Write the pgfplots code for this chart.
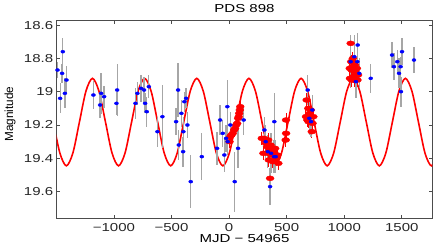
\documentclass[border=0pt]{standalone}
\usepackage{fontspec}
\setmainfont{Liberation Sans}[FakeStretch=1.3]
\newfontfamily\ylabfont{Liberation Sans}
\usepackage{pgfplots}
\usepackage{pgfplotstable}
\pgfplotsset{compat=1.18}

\pgfplotstableread{
t m e
-1490 18.87 0.05
-1467 19.04 0.09
-1444 18.76 0.08
-1450 18.89 0.055
-1412 18.93 0.085
-1426 19.01 0.09
-1178 19.02 0.085
-1111 19.01 0.125
-1120 19.08 0.08
-1085 19.03 0.065
-972 18.99 0.155
-978 19.07 0.07
-813 19.07 0.095
-796 19.01 0.07
-764 18.98 0.08
-738 18.99 0.08
-697 18.97 0.07
-729 19.07 0.06
-715 19.12 0.09
-622 19.24 0.09
-579 19.15 0.19
-443 18.99 0.16
-460 19.18 0.08
-414 19.13 0.08
-388 19.06 0.06
-373 19.04 0.06
-397 19.24 0.09
-437 19.32 0.09
-399 19.36 0.09
-362 19.20 0.08
-333 19.54 0.16
-237 19.39 0.14
-104 19.34 0.10
-78 19.17 0.09
-55 19.25 0.08
-41 19.38 0.10
-26 19.28 0.08
-15 19.09 0.16
11 19.20 0.08
-12 19.30 0.08
49 19.54 0.18
78 19.34 0.12
127 19.17 0.09
307 19.23 0.08
393 19.18 0.17
318 19.30 0.10
336 19.36 0.10
365 19.37 0.12
391 19.39 0.10
405 19.39 0.10
356 19.57 0.11
683 18.99 0.09
723 19.11 0.09
697 19.16 0.10
712 19.18 0.09
1056 18.82 0.16
1088 18.79 0.13
1114 18.82 0.13
1131 18.89 0.09
1102 18.94 0.10
1117 18.72 0.07
1230 18.92 0.085
1415 18.78 0.08
1432 18.85 0.08
1461 18.82 0.07
1476 18.89 0.09
1490 18.85 0.06
1502 18.76 0.08
1493 19.00 0.09
1606 18.81 0.08
}\bluedata

\pgfplotstableread{
t m e
97 19.09 0.04
93 19.11 0.04
88 19.13 0.04
84 19.15 0.04
79 19.16 0.04
70 19.19 0.04
62 19.20 0.04
52 19.22 0.04
44 19.23 0.04
32 19.25 0.04
20 19.26 0.04
10 19.27 0.04
4 19.30 0.04
284 19.28 0.04
298 19.37 0.04
304 19.28 0.04
312 19.29 0.04
320 19.31 0.04
330 19.33 0.04
340 19.29 0.04
350 19.35 0.04
360 19.32 0.04
368 19.38 0.04
375 19.35 0.04
390 19.36 0.04
400 19.34 0.04
410 19.40 0.04
428 19.43 0.04
356 19.52 0.04
345 19.41 0.04
335 19.37 0.04
380 19.42 0.04
420 19.38 0.04
495 19.17 0.04
495 19.25 0.04
492 19.29 0.04
674 19.05 0.04
688 19.10 0.04
668 19.15 0.04
680 19.17 0.04
700 19.13 0.04
732 19.15 0.04
718 19.24 0.04
710 19.11 0.04
690 19.18 0.04
725 19.19 0.04
1056 18.71 0.04
1060 18.82 0.04
1064 18.87 0.04
1079 18.91 0.04
1050 18.92 0.04
1070 18.85 0.04
1090 18.88 0.04
1100 18.90 0.04
1110 18.86 0.04
1120 18.90 0.04
1085 18.93 0.04
1048 18.86 0.04
1115 18.93 0.04
1095 18.84 0.04
1075 18.80 0.04
1065 18.93 0.04
}\reddata

\pgfplotstableread{
t m
-1526.25 19.1825
-1469.6 19.368
-1413 19.445
-1356.4 19.368
-1299.75 19.1825
-1243.1 18.997
-1186.5 18.92
-1129.9 18.997
-1073.25 19.1825
-1016.6 19.368
-960 19.445
-903.4 19.368
-846.75 19.1825
-790.1 18.997
-733.5 18.92
-676.9 18.997
-620.25 19.1825
-563.6 19.368
-507 19.445
-450.4 19.368
-393.75 19.1825
-337.1 18.997
-280.5 18.92
-223.9 18.997
-167.25 19.1825
-110.6 19.368
-54 19.445
2.6 19.368
59.25 19.1825
115.9 18.997
172.5 18.92
229.1 18.997
285.75 19.1825
342.4 19.368
399 19.445
455.6 19.368
512.25 19.1825
568.9 18.997
625.5 18.92
682.1 18.997
738.75 19.1825
795.4 19.368
852 19.445
908.6 19.368
965.25 19.1825
1021.9 18.997
1078.5 18.92
1135.1 18.997
1191.75 19.1825
1248.4 19.368
1305 19.445
1361.6 19.368
1418.25 19.1825
1474.9 18.997
1531.5 18.92
1588.1 18.997
1644.75 19.1825
1701.4 19.368
1758 19.445
1814.6 19.368
}\fitdata

\begin{document}
\begin{tikzpicture}
\begin{axis}[
  scale only axis, width=375.6bp, height=197.6bp,
  xmin=-1497, xmax=1765, ymin=18.574, ymax=19.76, y dir=reverse,
  axis line style={draw=black!70, line width=0.6bp},
  tick style={draw=black!70, line width=0.6bp},
  tick align=inside, major tick length=3.5bp,
  xtick={-1000,-500,0,500,1000,1500},
  xticklabels={−1000,−500,0,500,1000,1500},
  ytick={18.6,18.8,19,19.2,19.4,19.6},
  yticklabels={18.6,18.8,19,19.2,19.4,19.6},
  /pgf/number format/assume math mode=true,
  ticklabel style={font=\fontsize{11.6}{13}\selectfont, text=black!85},
  xticklabel style={anchor=center, yshift=-9.3bp, inner sep=0.5bp},
  xlabel={MJD − 54965},
  xlabel style={at={(axis description cs:0.5,-0.103)}, anchor=center, inner sep=0.5bp, font=\fontsize{11.6}{13}\selectfont},
  ylabel={Magnitude},
  ylabel style={at={(axis description cs:-0.124,0.528)}, anchor=center, inner sep=0.5bp, font=\ylabfont\fontsize{11.8}{13}\selectfont},
]
\addplot[red, line width=1.6bp, smooth, no markers] table[x=t, y=m] {\fitdata};
\addplot[only marks, mark=*, mark size=2.5bp, color=red, mark options={xscale=1.6, draw=red, fill=red},
  error bars/.cd, y dir=both, y explicit, error mark=none,
  error bar style={color=red, line width=1bp}] table[x=t, y=m, y error=e] {\reddata};
\addplot[only marks, mark=*, mark size=1.5bp, color=blue, mark options={xscale=1.35, draw=blue, fill=blue},
  error bars/.cd, y dir=both, y explicit, error mark=none,
  error bar style={color=black!35, line width=1.3bp}] table[x=t, y=m, y error=e] {\bluedata};
\end{axis}
\node[anchor=center, inner sep=0.5bp, font=\fontsize{11.6}{13}\selectfont] at (187.8bp,210bp) {PDS 898};
\pgfresetboundingbox
\path (-56.7bp,-26.7bp) rectangle (379.3bp,218.3bp);
\end{tikzpicture}
\end{document}
